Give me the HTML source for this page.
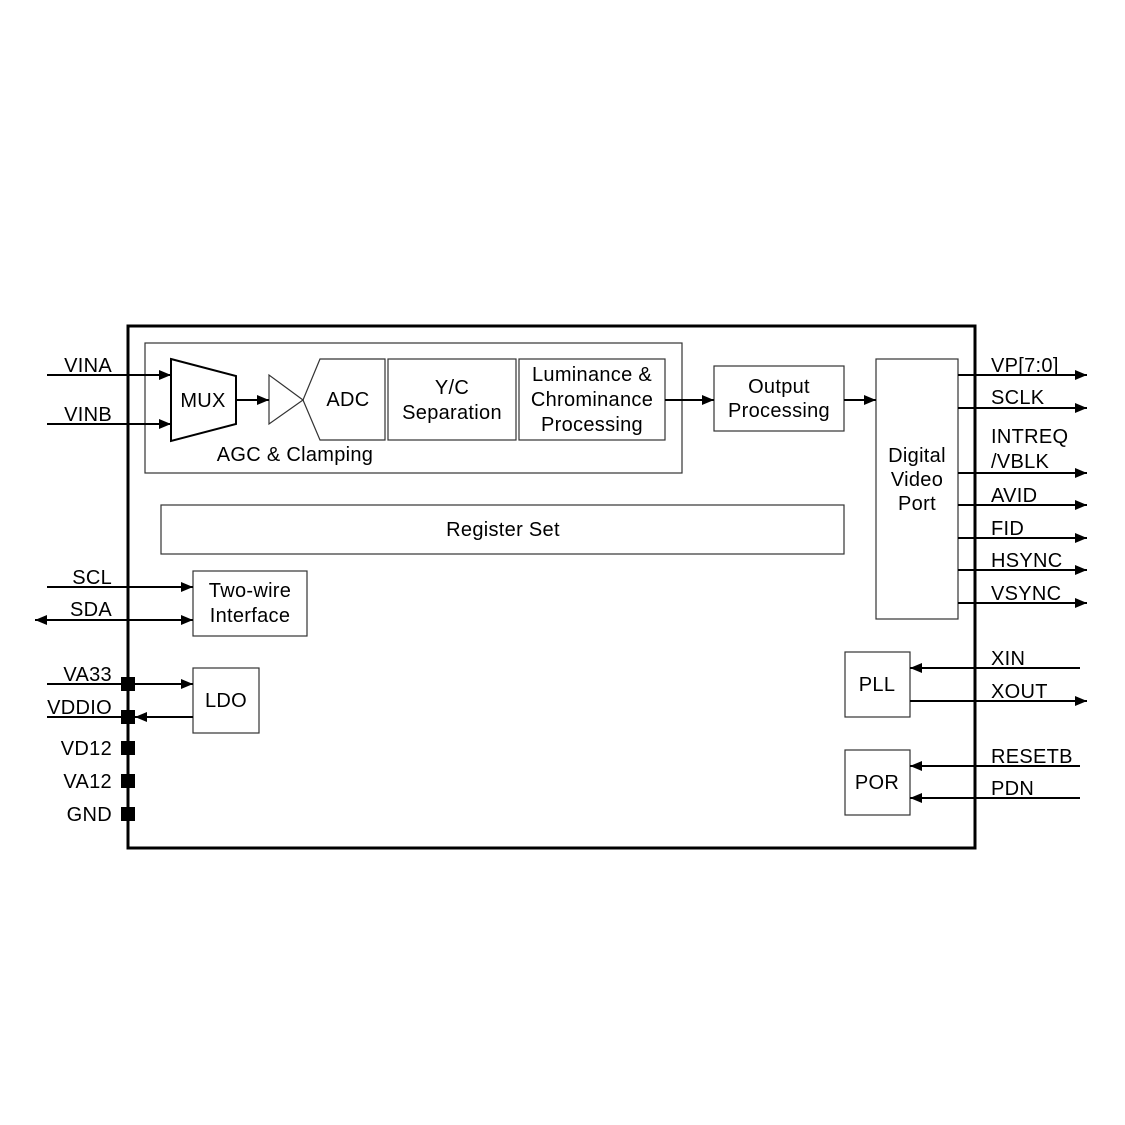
<!DOCTYPE html>
<html><head><meta charset="utf-8"><style>
html,body{margin:0;padding:0;background:#fff}
svg{display:block}
text{font-family:"Liberation Sans",sans-serif;font-size:20px;letter-spacing:0.3px;fill:#000}
</style></head><body>
<svg width="1125" height="1125" viewBox="0 0 1125 1125" xmlns="http://www.w3.org/2000/svg">
<defs>
<marker id="a" markerWidth="12" markerHeight="10" refX="12" refY="5" orient="auto" markerUnits="userSpaceOnUse"><path d="M0,0 L12,5 L0,10 Z" fill="#000"/></marker>
<marker id="s" markerWidth="12" markerHeight="10" refX="0" refY="5" orient="auto" markerUnits="userSpaceOnUse"><path d="M12,0 L0,5 L12,10 Z" fill="#000"/></marker>
</defs>
<rect x="128" y="326" width="847" height="522" fill="none" stroke="#000" stroke-width="3"/>
<g fill="none" stroke="#333" stroke-width="1.2">
<rect x="145" y="343" width="537" height="130"/>
<polygon points="269,375 269,424 303,400"/>
<polygon points="303,400 320,359 385,359 385,440 320,440"/>
<rect x="388" y="359" width="128" height="81"/>
<rect x="519" y="359" width="146" height="81"/>
<rect x="714" y="366" width="130" height="65"/>
<rect x="876" y="359" width="82" height="260"/>
<rect x="161" y="505" width="683" height="49"/>
<rect x="193" y="571" width="114" height="65"/>
<rect x="193" y="668" width="66" height="65"/>
<rect x="845" y="652" width="65" height="65"/>
<rect x="845" y="750" width="65" height="65"/>
</g>
<polygon points="171,359 236,376 236,424 171,441" fill="none" stroke="#000" stroke-width="2"/>
<g stroke="#000" stroke-width="2" fill="none">
<line x1="47" y1="375" x2="171" y2="375" marker-end="url(#a)"/>
<line x1="47" y1="424" x2="171" y2="424" marker-end="url(#a)"/>
<line x1="236" y1="400" x2="269" y2="400" marker-end="url(#a)"/>
<line x1="665" y1="400" x2="714" y2="400" marker-end="url(#a)"/>
<line x1="844" y1="400" x2="876" y2="400" marker-end="url(#a)"/>
<line x1="958" y1="375" x2="1087" y2="375" marker-end="url(#a)"/>
<line x1="958" y1="408" x2="1087" y2="408" marker-end="url(#a)"/>
<line x1="958" y1="473" x2="1087" y2="473" marker-end="url(#a)"/>
<line x1="958" y1="505" x2="1087" y2="505" marker-end="url(#a)"/>
<line x1="958" y1="538" x2="1087" y2="538" marker-end="url(#a)"/>
<line x1="958" y1="570" x2="1087" y2="570" marker-end="url(#a)"/>
<line x1="958" y1="603" x2="1087" y2="603" marker-end="url(#a)"/>
<line x1="1080" y1="668" x2="910" y2="668" marker-end="url(#a)"/>
<line x1="910" y1="701" x2="1087" y2="701" marker-end="url(#a)"/>
<line x1="1080" y1="766" x2="910" y2="766" marker-end="url(#a)"/>
<line x1="1080" y1="798" x2="910" y2="798" marker-end="url(#a)"/>
<line x1="47" y1="587" x2="193" y2="587" marker-end="url(#a)"/>
<line x1="35" y1="620" x2="193" y2="620" marker-end="url(#a)" marker-start="url(#s)"/>
<line x1="47" y1="684" x2="193" y2="684" marker-end="url(#a)"/>
<line x1="193" y1="717" x2="135" y2="717" marker-end="url(#a)"/>
<line x1="47" y1="717" x2="128" y2="717"/>
</g>
<g fill="#000">
<rect x="121" y="677" width="14" height="14"/>
<rect x="121" y="710" width="14" height="14"/>
<rect x="121" y="741" width="14" height="14"/>
<rect x="121" y="774" width="14" height="14"/>
<rect x="121" y="807" width="14" height="14"/>
</g>
<text x="112" y="372" text-anchor="end">VINA</text>
<text x="112" y="421" text-anchor="end">VINB</text>
<text x="112" y="584" text-anchor="end">SCL</text>
<text x="112" y="616" text-anchor="end">SDA</text>
<text x="112" y="681" text-anchor="end">VA33</text>
<text x="112" y="714" text-anchor="end">VDDIO</text>
<text x="112" y="755" text-anchor="end">VD12</text>
<text x="112" y="788" text-anchor="end">VA12</text>
<text x="112" y="821" text-anchor="end">GND</text>
<text x="203" y="407" text-anchor="middle">MUX</text>
<text x="348" y="406" text-anchor="middle">ADC</text>
<text x="295" y="461" text-anchor="middle">AGC &amp; Clamping</text>
<text x="452" y="394" text-anchor="middle">Y/C</text>
<text x="452" y="419" text-anchor="middle">Separation</text>
<text x="592" y="381" text-anchor="middle">Luminance &amp;</text>
<text x="592" y="406" text-anchor="middle">Chrominance</text>
<text x="592" y="431" text-anchor="middle">Processing</text>
<text x="779" y="393" text-anchor="middle">Output</text>
<text x="779" y="417" text-anchor="middle">Processing</text>
<text x="917" y="462" text-anchor="middle">Digital</text>
<text x="917" y="486" text-anchor="middle">Video</text>
<text x="917" y="510" text-anchor="middle">Port</text>
<text x="503" y="536" text-anchor="middle">Register Set</text>
<text x="250" y="597" text-anchor="middle">Two-wire</text>
<text x="250" y="622" text-anchor="middle">Interface</text>
<text x="226" y="707" text-anchor="middle">LDO</text>
<text x="877" y="691" text-anchor="middle">PLL</text>
<text x="877" y="789" text-anchor="middle">POR</text>
<text x="991" y="372">VP[7:0]</text>
<text x="991" y="404">SCLK</text>
<text x="991" y="443">INTREQ</text>
<text x="991" y="468">/VBLK</text>
<text x="991" y="502">AVID</text>
<text x="991" y="535">FID</text>
<text x="991" y="567">HSYNC</text>
<text x="991" y="600">VSYNC</text>
<text x="991" y="665">XIN</text>
<text x="991" y="698">XOUT</text>
<text x="991" y="763">RESETB</text>
<text x="991" y="795">PDN</text>
</svg>
</body></html>
